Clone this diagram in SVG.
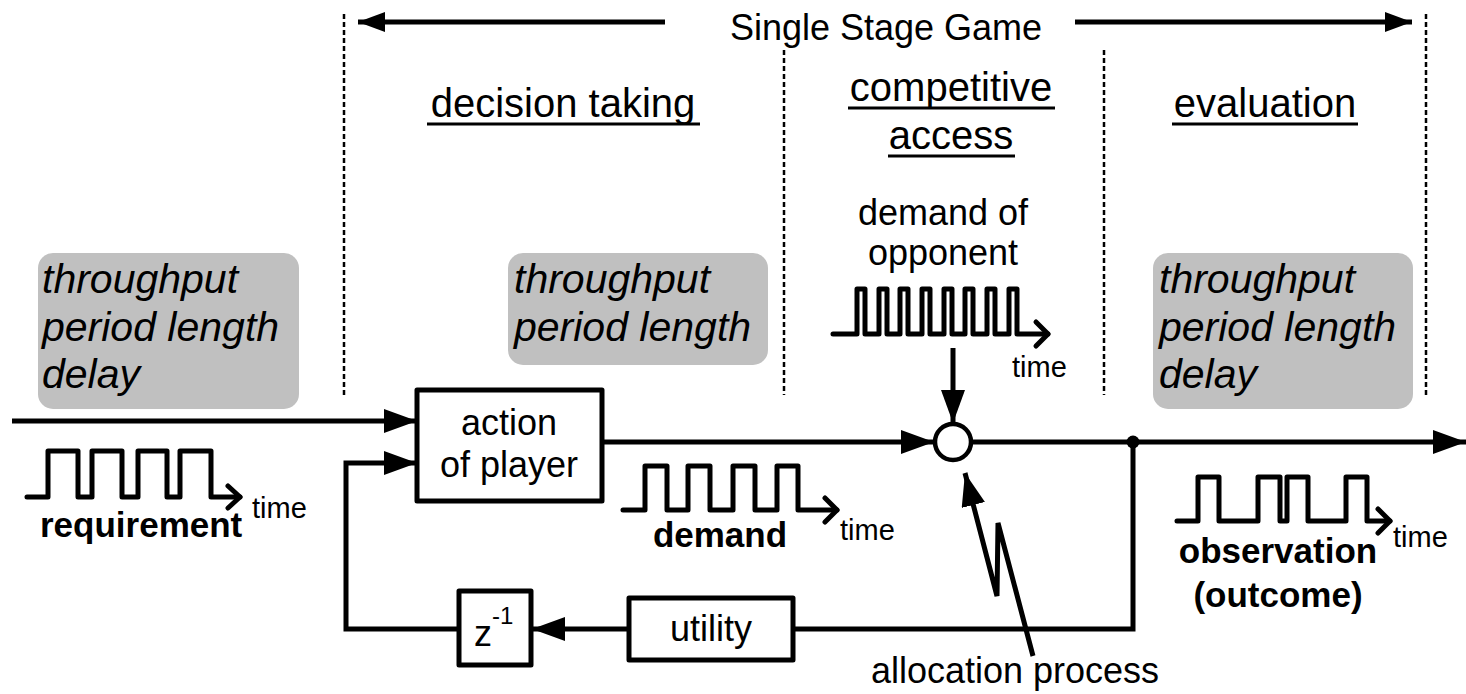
<svg xmlns="http://www.w3.org/2000/svg" width="1466" height="694" viewBox="0 0 1466 694">
<style>
  text { font-family: "Liberation Sans", Arial, sans-serif; fill: #000; }
  .t36 { font-size: 36px; }
  .hdr { font-size: 40px; }
  .it { font-size: 41px; font-style: italic; }
  .bold { font-size: 35px; font-weight: bold; }
  .time { font-size: 29px; }
  .ln { fill: none; stroke: #000; stroke-width: 5; stroke-linejoin: miter; }
  .sig { fill: none; stroke: #000; stroke-width: 5; stroke-linejoin: round; stroke-linecap: round; }
  .box { fill: #fff; stroke: #000; stroke-width: 5; stroke-linejoin: round; }
  .gray { fill: #c0c0c0; stroke: none; }
  .dot { fill: none; stroke: #000; stroke-width: 2.5; stroke-dasharray: 5 3; }
  .ul { stroke: #000; stroke-width: 3; }
</style>
<defs>
  <marker id="ah" markerUnits="userSpaceOnUse" markerWidth="34" markerHeight="24" refX="33" refY="12" orient="auto">
    <path d="M0,0 L33,12 L0,24 z" fill="#000"/>
  </marker>
  <marker id="ahs" markerUnits="userSpaceOnUse" markerWidth="28" markerHeight="20" refX="27" refY="10" orient="auto">
    <path d="M0,0 L27,10 L0,20 z" fill="#000"/>
  </marker>
</defs>

<g id="stage-bounds">
  <line class="dot" x1="344" y1="14" x2="344" y2="395"/>
  <line class="dot" x1="784" y1="50" x2="784" y2="395"/>
  <line class="dot" x1="1104" y1="50" x2="1104" y2="395"/>
  <line class="dot" x1="1426" y1="14" x2="1426" y2="395"/>
</g>

<g id="title">
  <line class="ln" x1="665" y1="22" x2="358" y2="22" stroke-width="4" marker-end="url(#ahs)"/>
  <line class="ln" x1="1075" y1="22" x2="1412" y2="22" stroke-width="4" marker-end="url(#ahs)"/>
  <text class="t36" x="886" y="40" text-anchor="middle">Single Stage Game</text>
</g>

<g id="phase-decision">
  <text class="hdr" x="563" y="117" text-anchor="middle">decision taking</text>
  <line class="ul" x1="427" y1="124" x2="700" y2="124"/>
</g>
<g id="phase-competitive">
  <text class="hdr" x="951" y="101" text-anchor="middle">competitive</text>
  <line class="ul" x1="848" y1="108" x2="1055" y2="108"/>
  <text class="hdr" x="951" y="149" text-anchor="middle">access</text>
  <line class="ul" x1="888" y1="156" x2="1015" y2="156"/>
</g>
<g id="phase-evaluation">
  <text class="hdr" x="1265" y="117" text-anchor="middle">evaluation</text>
  <line class="ul" x1="1172" y1="124" x2="1358" y2="124"/>
</g>

<g id="metrics-left">
  <rect class="gray" x="38" y="253" width="261" height="156" rx="15"/>
  <text class="it" x="42" y="293">throughput</text>
  <text class="it" x="42" y="341">period length</text>
  <text class="it" x="42" y="388">delay</text>
</g>
<g id="metrics-mid">
  <rect class="gray" x="508" y="253" width="260" height="112" rx="15"/>
  <text class="it" x="514" y="293">throughput</text>
  <text class="it" x="514" y="341">period length</text>
</g>
<g id="metrics-right">
  <rect class="gray" x="1153" y="253" width="260" height="156" rx="15"/>
  <text class="it" x="1159" y="293">throughput</text>
  <text class="it" x="1159" y="341">period length</text>
  <text class="it" x="1159" y="388">delay</text>
</g>

<g id="connectors">
  <path class="ln" d="M12,421 H417" marker-end="url(#ah)"/>
  <path class="ln" d="M459,629 H346 V463 H417" marker-end="url(#ah)"/>
  <path class="ln" d="M602,442 H934" marker-end="url(#ah)"/>
  <path class="ln" d="M953,348 V423" marker-end="url(#ah)"/>
  <path class="ln" d="M971,442 H1466" marker-end="url(#ah)"/>
  <path class="ln" d="M793,629 H1133 V442"/>
  <path class="ln" d="M629,629 H532" marker-end="url(#ah)"/>
  <polyline class="ln" points="1033,656 998,523 997,596 965,473" stroke-linejoin="round" marker-end="url(#ah)"/>
  <circle cx="1133" cy="442" r="6.5" fill="#000"/>
</g>

<g id="action-of-player">
  <rect class="box" x="417" y="390" width="185" height="111"/>
  <text class="t36" x="509" y="435" text-anchor="middle">action</text>
  <text class="t36" x="509" y="477" text-anchor="middle">of player</text>
</g>

<g id="allocation-node">
  <circle cx="953" cy="442" r="18" fill="#fff" stroke="#000" stroke-width="4.5"/>
</g>

<g id="utility">
  <rect class="box" x="629" y="598" width="164" height="62"/>
  <text class="t36" x="711" y="641" text-anchor="middle">utility</text>
</g>

<g id="delay">
  <rect class="box" x="459" y="591" width="72" height="74"/>
  <text class="t36" x="474" y="646">z<tspan font-size="24" dy="-22">-1</tspan></text>
</g>

<g id="requirement-signal">
  <path class="sig" d="M27,497 H48 V451 H78 V497 H92 V451 H122 V497 H138 V451 H167 V497 H180 V451 H211 V497 H240"/>
  <path class="sig" d="M228,486 L240,497 L228,508"/>
  <text class="time" x="252" y="518">time</text>
  <text class="bold" x="40" y="537">requirement</text>
</g>

<g id="demand-signal">
  <path class="sig" d="M623,510 H645 V466 H667 V510 H688 V466 H710 V510 H733 V466 H755 V510 H777 V466 H798 V510 H837"/>
  <path class="sig" d="M825,498 L837,510 L825,522"/>
  <text class="time" x="840" y="540">time</text>
  <text class="bold" x="720" y="547" text-anchor="middle">demand</text>
</g>

<g id="opponent-signal">
  <text class="t36" x="943" y="225" text-anchor="middle">demand of</text>
  <text class="t36" x="943" y="265" text-anchor="middle">opponent</text>
  <path class="sig" d="M833,334 H857 V289 H865 V334 H879 V289 H887 V334 H900 V289 H908 V334 H922 V289 H930 V334 H944 V289 H952 V334 H965 V289 H973 V334 H987 V289 H995 V334 H1009 V289 H1017 V334 H1048"/>
  <path class="sig" d="M1036,322 L1048,334 L1036,346"/>
  <text class="time" x="1012" y="377">time</text>
</g>

<g id="observation-signal">
  <path class="sig" d="M1177,521 H1198 V477 H1219 V521 H1258 V477 H1280 V521 H1287 V477 H1308 V521 H1346 V477 H1367 V521 H1390"/>
  <path class="sig" d="M1378,509 L1390,521 L1378,533"/>
  <text class="time" x="1393" y="547">time</text>
  <text class="bold" x="1278" y="563" text-anchor="middle">observation</text>
  <text class="bold" x="1278" y="607" text-anchor="middle">(outcome)</text>
</g>

<g id="allocation-label">
  <text class="t36" x="1015" y="683" text-anchor="middle">allocation process</text>
</g>
</svg>
